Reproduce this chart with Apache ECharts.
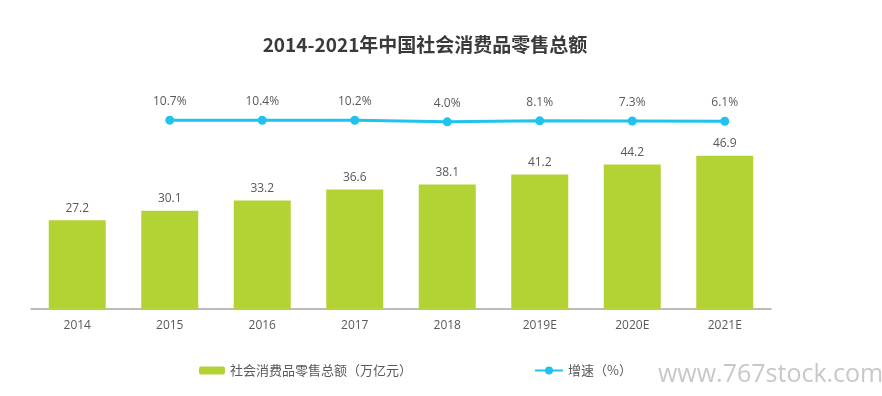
<!DOCTYPE html>
<html>
<head>
<meta charset="utf-8">
<script src="https://cdn.jsdelivr.net/npm/echarts@6/dist/echarts.min.js"></script>
<style>
  html, body { margin: 0; padding: 0; background: #fff; }
  #chart { width: 882px; height: 396px; }
</style>
</head>
<body>
<div id="chart"></div>
<script>
// 数据
var years = ['2014', '2015', '2016', '2017', '2018', '2019E', '2020E', '2021E'];
var retailTotal = [27.2, 30.1, 33.2, 36.6, 38.1, 41.2, 44.2, 46.9];
var growthRate = [10.7, 10.4, 10.2, 4.0, 8.1, 7.3, 6.1];
var barName = '社会消费品零售总额（万亿元）';
var lineName = '增速（%）';

var font = '"Open Sans", "Noto Sans CJK SC", sans-serif';
var textColor = '#595959';

var myChart = echarts.init(document.getElementById('chart'));

var option = {
    backgroundColor: '#fff',
    animation: false,
    title: {
        text: '2014-2021年中国社会消费品零售总额',
        left: 420,
        textAlign: 'center',
        top: 30,
        textStyle: {
            fontFamily: '"Noto Sans CJK SC", sans-serif',
            fontSize: 19,
            fontWeight: 'bold',
            color: '#3a3a3a'
        }
    },
    legend: [
        {
            data: [barName],
            left: 199,
            top: 364,
            padding: 0,
            itemWidth: 26,
            itemHeight: 8,
            itemGap: 4,
            textStyle: { fontFamily: '"Noto Sans CJK SC", sans-serif', fontSize: 13, color: textColor }
        },
        {
            data: [lineName],
            left: 534,
            top: 364,
            padding: 0,
            itemWidth: 28,
            itemHeight: 10,
            textStyle: { fontFamily: '"Noto Sans CJK SC", sans-serif', fontSize: 13, color: textColor }
        }
    ],
    grid: {
        left: 31,
        right: 111,
        top: 113,
        bottom: 87
    },
    xAxis: {
        type: 'category',
        data: years,
        axisLine: { lineStyle: { color: '#a6a6a6', width: 1.5 } },
        axisTick: { show: false },
        axisLabel: { color: textColor, fontFamily: font, fontSize: 12, margin: 11 }
    },
    yAxis: [
        {
            type: 'value',
            min: 0,
            max: 60,
            show: false
        },
        {
            type: 'value',
            min: -760,
            max: 40,
            show: false
        }
    ],
    series: [
        {
            name: barName,
            type: 'bar',
            data: retailTotal,
            barWidth: 57,
            itemStyle: { color: '#b3d334' },
            label: {
                show: true,
                position: 'top',
                distance: 6,
                color: textColor,
                fontFamily: font,
                fontSize: 12
            }
        },
        {
            name: lineName,
            type: 'line',
            yAxisIndex: 1,
            data: [null].concat(growthRate),
            symbol: 'circle',
            symbolSize: 9,
            lineStyle: { color: '#1fc3ee', width: 3 },
            itemStyle: { color: '#1fc3ee' },
            label: {
                show: true,
                position: 'top',
                distance: 8,
                formatter: function (p) { return p.value.toFixed(1) + '%'; },
                color: textColor,
                fontFamily: font,
                fontSize: 12
            }
        }
    ],
    graphic: [
        {
            type: 'text',
            left: 658,
            top: 362,
            style: {
                text: 'www.767stock.com',
                fontFamily: '"Open Sans", sans-serif',
                fontSize: 25,
                fill: '#c8c8c8'
            }
        }
    ]
};

myChart.setOption(option);
</script>
</body>
</html>
